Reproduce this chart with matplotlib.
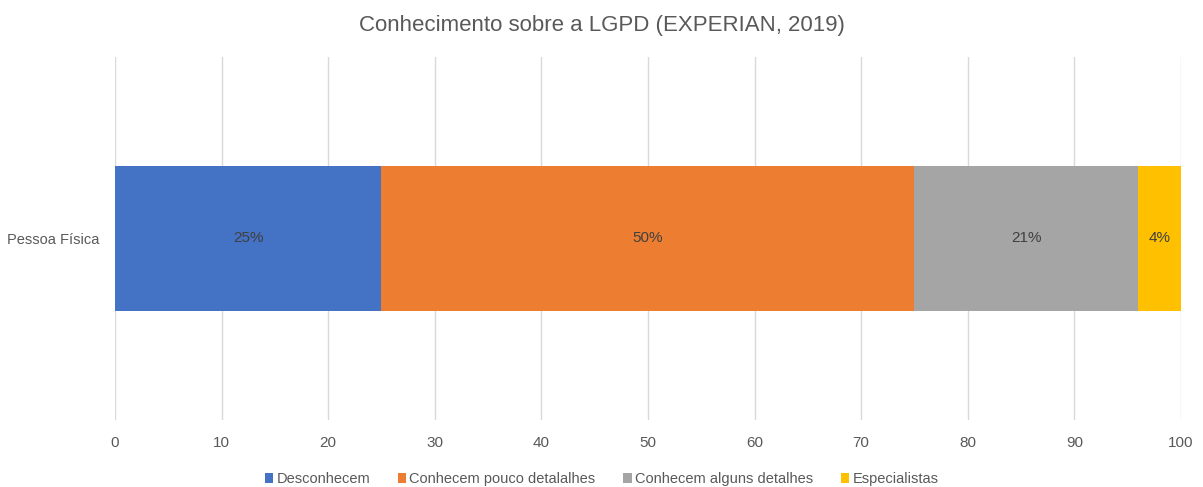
import matplotlib
matplotlib.use("Agg")
import matplotlib.pyplot as plt

# data
categories = ["Pessoa Física"]
series_names = ["Desconhecem", "Conhecem pouco detalalhes", "Conhecem alguns detalhes", "Especialistas"]
series_values = [25, 50, 21, 4]
colors = ["#4472C4", "#ED7D31", "#A5A5A5", "#FFC000"]
x_ticks = [0, 10, 20, 30, 40, 50, 60, 70, 80, 90, 100]

plt.rcParams['font.family'] = ['Liberation Sans', 'DejaVu Sans']

fig = plt.figure(figsize=(12.03, 4.87), dpi=100)
ax = fig.add_axes([0.0956, 0.1376, 0.886, 0.7454])

left = 0
for name, val, col in zip(series_names, series_values, colors):
    ax.barh(categories, [val], left=left, height=0.402, color=col, label=name, zorder=3)
    ax.text(left + val / 2, 0, f"{val}%", ha="center", va="center",
            fontsize=11, color="#404040", zorder=4)
    left += val

ax.set_xlim(0, 100)
ax.set_ylim(-0.5, 0.5)
ax.set_xticks(x_ticks)
ax.grid(axis="x", color="#D9D9D9", linewidth=1, zorder=0)
for s in ax.spines.values():
    s.set_visible(False)
ax.tick_params(axis="both", length=0, labelsize=11, colors="#595959")
ax.tick_params(axis="x", pad=11.5)
ax.tick_params(axis="y", pad=11, labelsize=10.5)

fig.suptitle("Conhecimento sobre a LGPD (EXPERIAN, 2019)", y=0.97, fontsize=16, color="#595959")
fig.legend(loc="lower center", bbox_to_anchor=(0.5, -0.01), ncol=4, frameon=False,
           fontsize=10.5, handlelength=0.6, handleheight=0.7, handletextpad=0.2,
           columnspacing=1.9, borderaxespad=0.1, borderpad=0.3, labelcolor="#595959")

fig.savefig("out.png", dpi=100)
